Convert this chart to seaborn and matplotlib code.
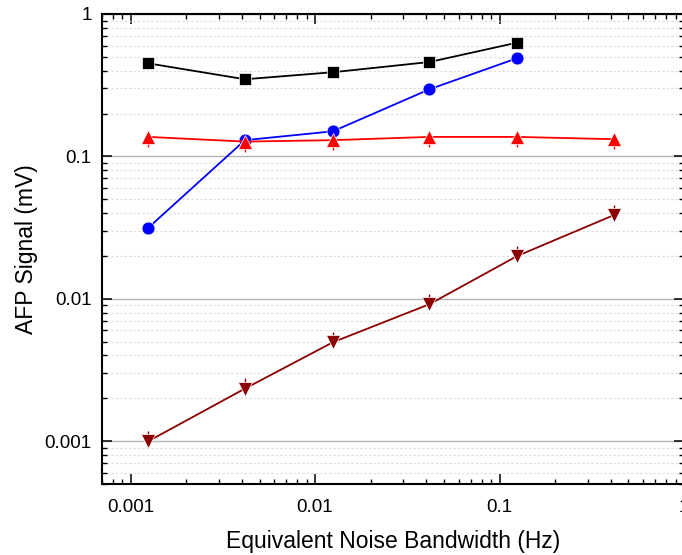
import matplotlib
matplotlib.use("Agg")
import matplotlib.pyplot as plt
import matplotlib.ticker as mticker
import numpy as np
import pandas as pd
import seaborn as sns

# Equivalent noise bandwidth (Hz)
enbw = [0.00125, 0.00417, 0.0125, 0.0417, 0.125, 0.417]

# AFP signal (mV) for each series
sig_square = [0.45, 0.348, 0.39, 0.46, 0.63]
sig_circle = [0.0316, 0.13, 0.15, 0.296, 0.49]
sig_up = [0.137, 0.127, 0.130, 0.137, 0.137, 0.132]
sig_down = [0.00100, 0.00234, 0.00495, 0.00916, 0.0200, 0.0387]

# measurement uncertainties (mV): [lower, upper]
err_up = [[0.021, 0.020, 0.020, 0.021, 0.021, 0.020],
          [0.004, 0.004, 0.004, 0.004, 0.004, 0.004]]
err_down = [[0.00003, 0.00007, 0.00015, 0.00027, 0.0006, 0.0012],
            [0.00018, 0.00042, 0.0009, 0.00165, 0.0036, 0.0070]]

series = {
    "s": (enbw[:5], sig_square, None, "black", "s", 8.6),
    "o": (enbw[:5], sig_circle, None, "#0000ff", "o", 9.3),
    "^": (enbw, sig_up, err_up, "#ff0000", "^", 10.5),
    "v": (enbw, sig_down, err_down, "#8b0000", "v", 10.5),
}

sns.set_theme(style="white")
plt.rcParams["font.family"] = ["Liberation Sans", "DejaVu Sans"]

fig = plt.figure(figsize=(6.82, 5.55), dpi=100)
W, H = 682, 555
ax = fig.add_axes([102 / W, 1 - 484 / H, (684 - 102) / W, (484 - 14) / H])

rows = []
for name, (xs, ys, es, c, m, ms) in series.items():
    for x, y in zip(xs, ys):
        rows.append({"series": name, "x": x, "y": y})
df = pd.DataFrame(rows)

for name, (xs, ys, es, c, m, ms) in series.items():
    if es is not None:
        ax.errorbar(xs, ys, yerr=es, fmt="none", ecolor=c, elinewidth=1.0,
                    capsize=0, zorder=2)

sns.lineplot(data=df, x="x", y="y", hue="series", style="series",
             hue_order=list(series), style_order=list(series),
             palette={k: v[3] for k, v in series.items()},
             markers={k: v[4] for k, v in series.items()},
             dashes=False, linewidth=1.3, markersize=9.5, legend=False,
             ax=ax, zorder=3, estimator=None, sort=True)

# per-series marker sizes and edge colours
for line, (name, (xs, ys, es, c, m, ms)) in zip(ax.get_lines(), series.items()):
    line.set_markersize(ms)
    line.set_markeredgecolor("white")
    line.set_markeredgewidth(0.5)

ax.set_xscale("log")
ax.set_yscale("log")
ax.set_xlim(0.0007, 1.0)
ax.set_ylim(0.0005, 1.0)

ax.xaxis.set_major_locator(mticker.FixedLocator([0.001, 0.01, 0.1, 1]))
ax.yaxis.set_major_locator(mticker.FixedLocator([0.001, 0.01, 0.1, 1]))
ax.xaxis.set_minor_locator(mticker.LogLocator(base=10, subs=np.arange(2, 10)))
ax.yaxis.set_minor_locator(mticker.LogLocator(base=10, subs=np.arange(2, 10)))
fmt = mticker.FuncFormatter(lambda v, p: f"{v:g}")
ax.xaxis.set_major_formatter(fmt)
ax.yaxis.set_major_formatter(fmt)
ax.xaxis.set_minor_formatter(mticker.NullFormatter())
ax.yaxis.set_minor_formatter(mticker.NullFormatter())

ax.grid(False)
ax.yaxis.grid(True, which="major", color="#b4b4b4", linewidth=1.0, linestyle="-")
ax.yaxis.grid(True, which="minor", color="#dcdcdc", linewidth=0.8, linestyle=(0, (2, 2)))
ax.set_axisbelow(True)

for s in ax.spines.values():
    s.set_visible(True)
    s.set_color("black")
    s.set_linewidth(1.5)

ax.tick_params(which="both", direction="in", top=True, right=True,
               bottom=True, left=True, color="black")
ax.tick_params(which="major", length=7.5, width=1.1, labelsize=13.5,
               labelcolor="black")
ax.tick_params(axis="x", which="major", pad=10.5)
ax.tick_params(axis="y", which="major", pad=7.5)
ax.tick_params(which="minor", length=3.8, width=1.0)

ax.set_xlabel("Equivalent Noise Bandwidth (Hz)", fontsize=16.5, labelpad=10.5,
              color="black")
ax.set_ylabel("AFP Signal (mV)", fontsize=16.5, labelpad=4.5, color="black")

fig.savefig("out.png", dpi=100)
